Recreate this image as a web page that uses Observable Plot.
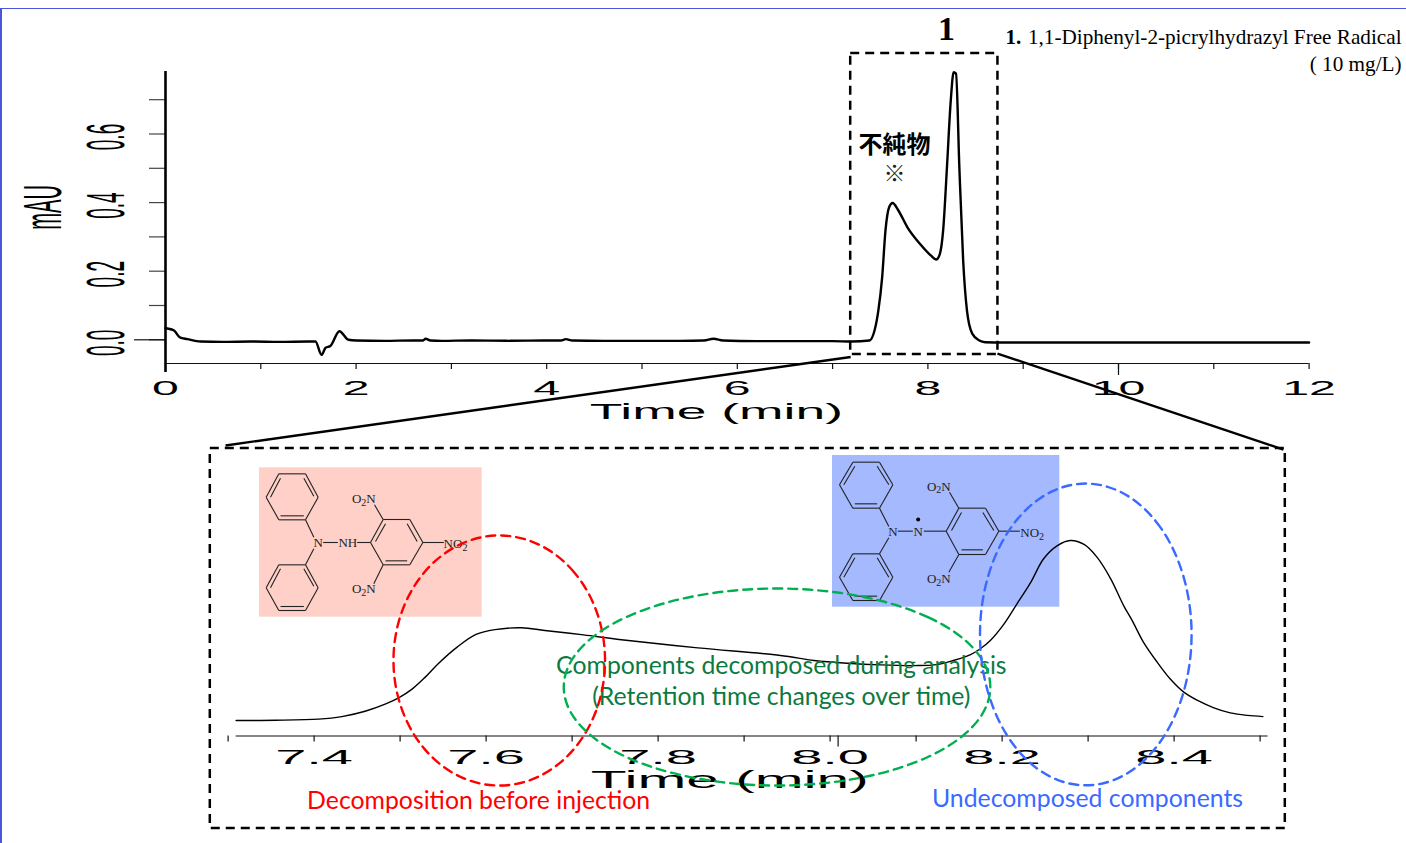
<!DOCTYPE html>
<html><head><meta charset="utf-8">
<script src="https://cdn.jsdelivr.net/npm/d3@7"></script>
<script src="https://cdn.jsdelivr.net/npm/@observablehq/plot@0.6"></script>
<style>
html,body{margin:0;padding:0;background:#fff;overflow:hidden}
#stage{position:relative;width:1406px;height:843px;background:#fff}
#stage svg{position:absolute;overflow:visible}
#edge{position:absolute;left:0;top:8px;right:0;bottom:0;border-top:1.5px solid #4a55dc;border-left:2px solid #4a55dc;box-sizing:border-box}
</style></head><body><div id="stage"><div id="edge"></div></div>
<script>
// Full chromatogram
const fullTime = [0,0.02,0.09,0.15,0.23,0.37,0.6,0.9,1.2,1.5,1.574,1.637,1.68,1.73,1.825,1.92,2.0,2.3,2.6,2.7,2.73,2.78,2.9,3.2,3.6,4.0,4.15,4.2,4.27,4.6,5.0,5.4,5.65,5.75,5.85,6.2,6.6,7.0,7.2,7.386,7.44,7.48,7.52,7.555,7.594,7.63,7.69,7.785,7.916,8.03,8.087,8.125,8.16,8.2,8.24,8.27,8.295,8.33,8.37,8.41,8.465,8.54,8.6,8.8,9.4,10,10.6,11.2,12];
const fullSignal = [0.034,0.033,0.027,0.007,0.002,-0.005,-0.006,-0.005,-0.006,-0.005,-0.005,-0.044,-0.023,-0.018,0.025,0,-0.002,-0.003,-0.002,-0.002,0.003,-0.002,-0.003,-0.002,-0.003,-0.002,-0.002,0.002,-0.002,-0.003,-0.003,-0.003,-0.002,0.003,-0.002,-0.004,-0.004,-0.004,-0.005,-0.002,0.027,0.085,0.182,0.319,0.387,0.399,0.377,0.328,0.28,0.246,0.234,0.25,0.319,0.503,0.698,0.78,0.776,0.503,0.231,0.085,0.018,-0.002,-0.007,-0.008,-0.008,-0.008,-0.008,-0.008,-0.008];
const fullTicks = [0,1,2,3,4,5,6,7,8,9,10,11,12];
const signalTicks = [0,0.1,0.2,0.3,0.4,0.5,0.6,0.7];
// Enlarged region
const zoomTime = [7.3,7.346,7.396,7.423,7.45,7.474,7.489,7.505,7.52,7.535,7.557,7.579,7.601,7.632,7.659,7.704,7.748,7.837,7.933,7.972,8.011,8.049,8.088,8.115,8.134,8.154,8.165,8.177,8.193,8.208,8.224,8.239,8.255,8.27,8.286,8.301,8.317,8.332,8.342,8.355,8.371,8.386,8.402,8.418,8.437,8.456,8.476,8.494];
const zoomSignal = [0,0.001,0.006,0.017,0.04,0.072,0.098,0.137,0.188,0.246,0.318,0.373,0.394,0.402,0.39,0.371,0.35,0.315,0.282,0.26,0.248,0.241,0.238,0.242,0.26,0.286,0.31,0.347,0.419,0.506,0.599,0.701,0.758,0.78,0.763,0.708,0.614,0.498,0.433,0.34,0.253,0.181,0.123,0.087,0.055,0.033,0.022,0.017];
const zoomTicks = [7.3,7.4,7.5,7.6,7.7,7.8,7.9,8.0,8.1,8.2,8.3,8.4,8.5];
// Annotation ellipses, given as eight points round each outline
const redOutline = [[7.729,0.26],[7.693,0.643],[7.606,0.802],[7.519,0.643],[7.483,0.26],[7.519,-0.123],[7.606,-0.282],[7.693,-0.123]];
const greenOutline = [[8.177,0.145],[8.105,0.447],[7.929,0.572],[7.753,0.447],[7.681,0.145],[7.753,-0.157],[7.929,-0.282],[8.105,-0.157]];
const blueOutline = [[8.411,0.373],[8.375,0.836],[8.288,1.027],[8.201,0.836],[8.165,0.373],[8.201,-0.09],[8.288,-0.281],[8.375,-0.09]];
// Structures, in sketch units of the two panels
const hydrazineBonds = [[85,55,165,55],[165,55,203,125],[203,125,165,193],[165,193,85,193],[85,193,47,125],[47,125,85,55],[60,125,90,68],[160,68,190,122],[90,181,160,181],[165,193,190,245],[190,280,165,328],[165,328,203,397],[203,397,165,465],[165,465,85,465],[85,465,47,397],[47,397,85,328],[85,328,165,328],[60,397,90,340],[160,340,190,392],[90,453,160,453],[218,261,262,261],[320,261,360,261],[360,261,398,192],[398,192,478,192],[478,192,517,261],[517,261,478,328],[478,328,398,328],[398,328,360,261],[375,258,405,205],[470,205,500,258],[405,316,470,316],[398,192,372,148],[398,328,370,385],[517,261,580,261]];
const hydrazineLabels = [["N",203,263],["NH",292,263],["O2N",340,130],["O2N",340,400],["NO2",615,265]];
const radicalBonds = [[82,35,162,35],[162,35,202,103],[202,103,162,173],[162,173,82,173],[82,173,42,103],[42,103,82,35],[55,103,88,47],[155,47,190,103],[88,160,155,160],[162,173,190,228],[190,262,162,310],[82,310,162,310],[162,310,202,380],[202,380,162,450],[162,450,82,450],[82,450,42,380],[42,380,82,310],[55,380,88,322],[155,322,190,380],[88,437,155,437],[217,242,262,242],[295,242,362,242],[362,242,400,173],[400,173,480,173],[480,173,520,242],[520,242,480,312],[480,312,400,312],[400,312,362,242],[378,240,408,186],[472,186,505,240],[408,298,472,298],[400,173,372,125],[400,312,370,365],[520,242,583,242]];
const radicalLabels = [["N",202,245],["N",278,245],["O2N",340,108],["O2N",340,385],["NO2",620,248]];
const radicalDot = [[278,207]];

const stage = document.getElementById("stage");
const stretch = (svg, sel, sx, sy = 1, local = "") => svg.querySelectorAll(sel).forEach(t => {
  t.setAttribute("transform", (t.getAttribute("transform") || "") + `${local} scale(${sx},${sy})`);
});
const zip = (a, b) => a.map((v, i) => [v, b[i]]);
const baseStyle = {background: "transparent", fontFamily: "'Liberation Sans'", color: "#000", overflow: "visible"};
const ring = {curve: "cardinal-closed", tension: -0.125, strokeWidth: 2.4, strokeDasharray: "9,6"};

function molecule(left, top, h, bg, box, bonds, labels, dots) {
  const svg = Plot.plot({
    width: 240, height: h, margin: 0, style: baseStyle,
    x: {domain: [0, 720], axis: null}, y: {domain: [h * 3, 0], axis: null},
    marks: [
      Plot.rect([box], {x1: d => d[0], x2: d => d[1], y1: d => d[2], y2: d => d[3], fill: bg}),
      Plot.link(bonds, {x1: d => d[0], y1: d => d[1], x2: d => d[2], y2: d => d[3], stroke: "#222", strokeWidth: 1.1}),
      Plot.text(labels, {text: d => d[0], x: d => d[1], y: d => d[2], fontFamily: "'Liberation Serif'", fontSize: 13, fill: "#222", className: "atom"}),
      Plot.dot(dots, {x: d => d[0], y: d => d[1], r: 2, fill: "#000"})
    ]
  });
  svg.querySelectorAll(".atom text").forEach(t => {
    const m = t.textContent.match(/^(\D*)2(\D*)$/);
    if (m) t.innerHTML = `${m[1]}<tspan dy="2.5" font-size="10">2</tspan><tspan dy="-2.5">${m[2]}</tspan>`;
  });
  svg.style.left = left + "px"; svg.style.top = top + "px";
  stage.appendChild(svg);
}
molecule(250, 455, 170, "#ffd0c8", [27, 695, 37, 485], hydrazineBonds, hydrazineLabels, []);
molecule(825, 450, 165, "#a5b9ff", [21, 703, 15, 470], radicalBonds, radicalLabels, radicalDot);

// Upper chromatogram
const top_ = Plot.plot({
  width: 1406, height: 843, marginLeft: 165, marginRight: 97.4, marginTop: 71, marginBottom: 480, style: baseStyle,
  x: {domain: [0, 12]}, y: {domain: [-0.0691, 0.7822]},
  marks: [
    Plot.axisX({ticks: fullTicks, tickSize: 6, tickPadding: 11, fontSize: 21, label: null, stroke: "#111", strokeWidth: 1.2,
      tickFormat: d => d % 2 === 0 ? String(d) : ""}),
    Plot.axisY({ticks: signalTicks, tickSize: 16, tickPadding: 42, fontSize: 53, label: null, stroke: "#444", strokeWidth: 1.2,
      tickRotate: -90, textAnchor: "middle", lineAnchor: "middle",
      tickFormat: d => Math.round(d * 10) % 2 === 0 ? d.toFixed(1) : ""}),
    Plot.ruleY([-0.0691], {stroke: "#111", strokeWidth: 1.2}),
    Plot.ruleY([0], {x1: -0.325, x2: 0, stroke: "#111", strokeWidth: 1.2}),
    Plot.ruleX([0], {y1: -0.095, y2: 0.7822, stroke: "#000", strokeWidth: 2.6}),
    Plot.ruleX([10], {y1: -0.0691, y2: -0.104, stroke: "#111", strokeWidth: 1.2}),
    Plot.line(zip(fullTime, fullSignal), {curve: "monotone-x", stroke: "#000", strokeWidth: 2.4}),
    Plot.rect([[7.19, 8.735, -0.043, 0.835]], {x1: d => d[0], x2: d => d[1], y1: d => d[2], y2: d => d[3], fill: "none", stroke: "#000", strokeWidth: 2.5, strokeDasharray: "9,6"}),
    Plot.link([[7.19, -0.05, 0.63, -0.308], [8.73, -0.04, 11.73, -0.32]], {x1: d => d[0], y1: d => d[1], x2: d => d[2], y2: d => d[3], stroke: "#000", strokeWidth: 2.4}),
    Plot.text(["Time (min)"], {x: 5.78, y: -0.21, className: "xlabel", fontSize: 22, fontWeight: 400}),
    Plot.text(["mAU"], {x: -1.27, y: 0.386, rotate: -90, className: "ylabel", fontSize: 53}),
    Plot.text(["1"], {x: 8.195, y: 0.905, fontFamily: "'Liberation Serif'", fontWeight: 700, fontSize: 34}),
    Plot.text(["1."], {x: 8.814, y: 0.881, textAnchor: "start", fontFamily: "'Liberation Serif'", fontWeight: 700, fontSize: 21}),
    Plot.text(["1,1-Diphenyl-2-picrylhydrazyl Free Radical"], {x: 12.97, y: 0.881, textAnchor: "end", fontFamily: "'Liberation Serif'", fontSize: 21.2}),
    Plot.text(["( 10 mg/L)"], {x: 12.97, y: 0.803, textAnchor: "end", fontFamily: "'Liberation Serif'", fontSize: 21.2}),
    Plot.text(["不純物"], {x: 7.65, y: 0.566, fontFamily: "'Noto Sans CJK JP'", fontWeight: 700, fontSize: 24}),
    Plot.text(["※"], {x: 7.65, y: 0.484, fontFamily: "'Noto Sans CJK JP'", fontSize: 22, fill: "#222"})
  ]
});
top_.style.left = 0; top_.style.top = 0;
stretch(top_, 'g[aria-label="x-axis tick label"] text', 2.3);
stretch(top_, 'g[aria-label="y-axis tick label"] text', 0.36, 1, " translate(-3,0)");
stretch(top_, '.xlabel text', 2.43);
stretch(top_, '.ylabel text', 0.38);
stage.appendChild(top_);

// Enlarged region
const zoom = Plot.plot({
  width: 1406, height: 843, marginLeft: 235.6, marginRight: 138.4, marginTop: 448, marginBottom: 107.5, style: baseStyle,
  x: {domain: [7.3, 8.5]}, y: {domain: [-0.0672, 1.179], axis: null},
  marks: [
    Plot.axisX({ticks: zoomTicks, tickSize: 6, tickPadding: 7.5, fontSize: 20, label: null, dx: -8, stroke: "#111", strokeWidth: 1.2,
      tickFormat: d => Math.round(d * 10) % 2 === 0 ? d.toFixed(1) : ""}),
    Plot.ruleY([-0.0672], {stroke: "#111", strokeWidth: 1.2}),
    Plot.ruleX([8.0], {y1: -0.0672, y2: -0.115, stroke: "#111", strokeWidth: 1.2}),
    Plot.rect([[7.27, 8.52, -0.468, 1.179]], {x1: d => d[0], x2: d => d[1], y1: d => d[2], y2: d => d[3], fill: "none", stroke: "#000", strokeWidth: 2.5, strokeDasharray: "9,6"}),
    Plot.line(zip(zoomTime, zoomSignal), {curve: "catmull-rom", stroke: "#000", strokeWidth: 1.4}),
    Plot.text(["Time (min)"], {x: 7.874, y: -0.26, className: "xlabel", fontSize: 23}),
    Plot.text(["Components decomposed during analysis"], {x: 7.934, y: 0.238, fontFamily: "Lato", fontSize: 24.8, fill: "#0c7a40"}),
    Plot.text(["(Retention time changes over time)"], {x: 7.934, y: 0.1, fontFamily: "Lato", fontSize: 24.8, fill: "#0c7a40"}),
    Plot.text(["Decomposition before injection"], {x: 7.582, y: -0.351, fontFamily: "Lato", fontSize: 24.8, fill: "#ff0000"}),
    Plot.text(["Undecomposed components"], {x: 8.29, y: -0.342, fontFamily: "Lato", fontSize: 24.8, fill: "#3a6aff"}),
    Plot.line(redOutline, {...ring, stroke: "#ff0000"}),
    Plot.line(greenOutline, {...ring, stroke: "#00b050"}),
    Plot.line(blueOutline, {...ring, stroke: "#3a6aff"})
  ]
});
zoom.style.left = 0; zoom.style.top = 0;
stretch(zoom, 'g[aria-label="x-axis tick label"] text', 2.8);
stretch(zoom, '.xlabel text', 2.55);
stage.appendChild(zoom);
</script></body></html>
